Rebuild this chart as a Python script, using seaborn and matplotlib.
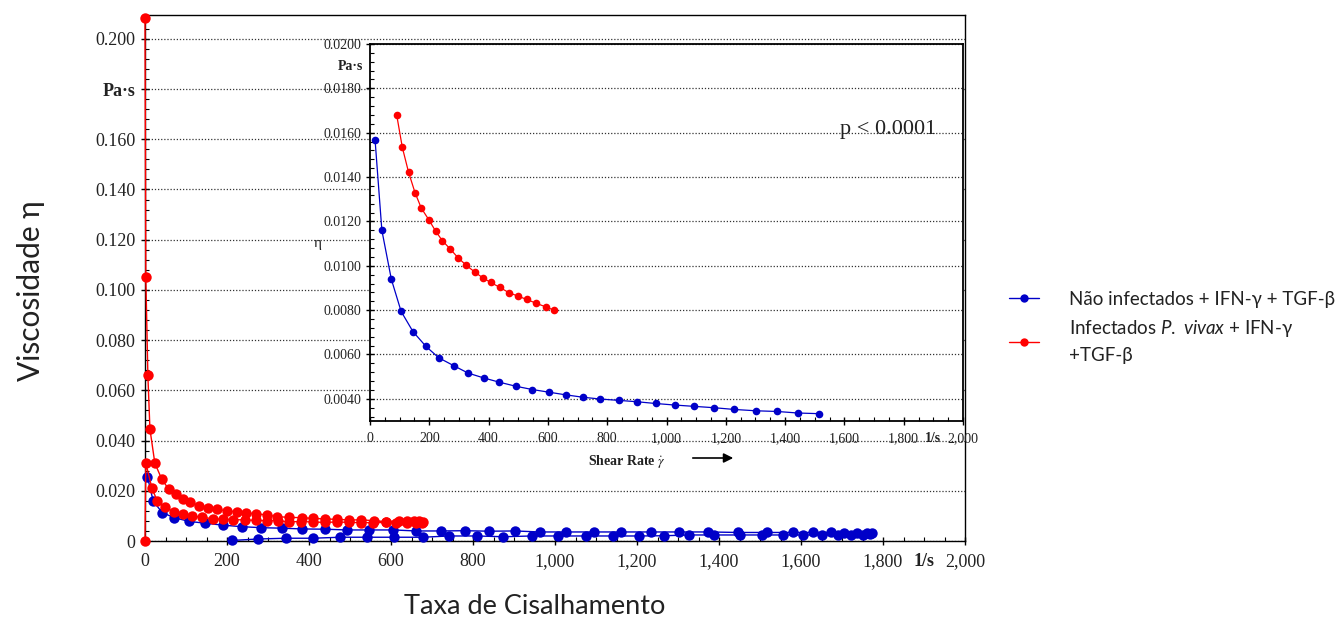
import matplotlib
matplotlib.use("Agg")
import matplotlib.pyplot as plt
from matplotlib.ticker import MultipleLocator, FixedLocator
from matplotlib.lines import Line2D
from matplotlib.font_manager import FontProperties
import matplotlib.transforms as mtransforms
import pandas as pd
import seaborn as sns

sns.set_theme(style="white")
plt.rcParams["font.family"] = ["Liberation Serif", "DejaVu Serif"]
plt.rcParams["mathtext.fontset"] = "custom"
plt.rcParams["mathtext.it"] = "Lato:italic"
plt.rcParams["mathtext.rm"] = "Lato"

BLUE = "#0000C8"
RED = "#FF0000"

# ---- main panel: full flow loop (ramp up, then ramp down) ----
blue_rate = [6, 20, 42, 71, 108, 146, 191, 236, 284, 335, 384, 439, 492, 547,
             606, 661, 723, 780, 840, 902, 963, 1028, 1095, 1162, 1233, 1303,
             1374, 1447, 1516, 1580, 1630, 1672, 1705, 1736, 1760, 1772,
             1768, 1752, 1723, 1691, 1650, 1606, 1555, 1504, 1450, 1388, 1328,
             1267, 1206, 1141, 1076, 1008, 943, 874, 810, 742, 677, 608, 542,
             476, 409, 343, 276, 211]
blue_visc = [0.0256, 0.0159, 0.0113, 0.0093, 0.0078, 0.0071, 0.0063, 0.0057,
             0.0053, 0.0051, 0.0048, 0.0047, 0.0044, 0.0044, 0.0044, 0.0040,
             0.0040, 0.0041, 0.0039, 0.0040, 0.0036, 0.0036, 0.0036, 0.0036,
             0.0036, 0.0036, 0.0036, 0.0034, 0.0034, 0.0034, 0.0034, 0.0034,
             0.0032, 0.0032, 0.0032, 0.0032,
             0.0026, 0.0025, 0.0025, 0.0024, 0.0024, 0.0024, 0.0024, 0.0024,
             0.0024, 0.0024, 0.0024, 0.0021, 0.0020, 0.0020, 0.0020, 0.0020,
             0.0020, 0.0017, 0.0020, 0.0020, 0.0015, 0.0015, 0.0015, 0.0015,
             0.0011, 0.0011, 0.0008, 0.0002]

red_rate = [0, 2, 7, 12, 24, 41, 58, 75, 92, 110, 132, 154, 176, 201, 224,
            246, 271, 297, 322, 352, 382, 409, 439, 469, 498, 528, 558, 589,
            620, 638, 655, 669, 678,
            675, 662, 638, 613, 589, 557, 528, 498, 469, 439, 409, 380, 352,
            325, 297, 271, 244, 215, 191, 166, 138, 114, 93, 71, 49, 30, 17,
            2, 0]
red_visc = [0.2085, 0.105, 0.066, 0.0446, 0.031, 0.0246, 0.0206, 0.0186,
            0.0166, 0.0154, 0.0141, 0.0130, 0.0126, 0.0120, 0.0116, 0.0112,
            0.0108, 0.0104, 0.0097, 0.0094, 0.0093, 0.0090, 0.0088, 0.0086,
            0.0084, 0.0084, 0.0081, 0.0077, 0.0081, 0.0081, 0.0080, 0.0079,
            0.0077,
            0.0073, 0.0072, 0.0072, 0.0073, 0.0074, 0.0073, 0.0073, 0.0074,
            0.0076, 0.0074, 0.0076, 0.0077, 0.0077, 0.0080, 0.0081, 0.0082,
            0.0084, 0.0085, 0.0086, 0.0089, 0.0094, 0.0100, 0.0108, 0.0116,
            0.0134, 0.0159, 0.0210, 0.031, 0.0]

# ---- inset: ramp-up curves ----
inset_blue_rate = [17, 40, 72, 105, 145, 189, 232, 283, 331, 384, 436, 491,
                   547, 603, 660, 719, 777, 839, 899, 963, 1027, 1093, 1160,
                   1229, 1303, 1373, 1443, 1516]
inset_blue_visc = [0.01569, 0.0116, 0.00939, 0.00794, 0.00703, 0.00636,
                   0.00585, 0.00549, 0.00516, 0.00494, 0.00475, 0.00457,
                   0.00442, 0.00430, 0.00418, 0.00407, 0.00399, 0.00393,
                   0.00387, 0.00379, 0.00372, 0.00366, 0.00360, 0.00352,
                   0.00346, 0.00343, 0.00336, 0.00333]
inset_red_rate = [90, 109, 130, 152, 173, 199, 221, 244, 271, 297, 324, 353,
                  381, 407, 437, 468, 499, 529, 560, 592, 620]
inset_red_visc = [0.0168, 0.01534, 0.01422, 0.01329, 0.0126, 0.01206,
                  0.01157, 0.01113, 0.01075, 0.01036, 0.01003, 0.00972,
                  0.00945, 0.00925, 0.00903, 0.00879, 0.00863, 0.00848,
                  0.00831, 0.00815, 0.0080]

main_y_ticks = [0, 0.02, 0.04, 0.06, 0.08, 0.10, 0.12, 0.14, 0.16, 0.18, 0.20]
main_y_labels = ["0", "0.020", "0.040", "0.060", "0.080", "0.100", "0.120",
                 "0.140", "0.160", "Pa·s", "0.200"]
x_ticks = [0, 200, 400, 600, 800, 1000, 1200, 1400, 1600, 1800, 2000]
x_labels = ["0", "200", "400", "600", "800", "1,000", "1,200", "1,400",
            "1,600", "1,800", "2,000"]
inset_y_ticks = [0.004, 0.006, 0.008, 0.010, 0.012, 0.014, 0.016, 0.018, 0.020]
inset_y_labels = ["0.0040", "0.0060", "0.0080", "0.0100", "0.0120", "0.0140",
                  "0.0160", "0.0180", "0.0200"]

label_blue = "Não infectados + IFN-γ + TGF-β"
label_red = "Infectados $\\mathit{P.\\ vivax}$ + IFN-γ\n+TGF-β"

W, H = 1339, 622
fig = plt.figure(figsize=(W / 100, H / 100), dpi=100)


def fx(px):
    return px / W


def fy(py):
    return 1 - py / H


ax = fig.add_axes([fx(145), fy(541), fx(965) - fx(145), fy(15) - fy(541)])
ax.set_facecolor("white")

main_blue = pd.DataFrame({"rate": blue_rate, "visc": blue_visc})
main_red = pd.DataFrame({"rate": red_rate, "visc": red_visc})
line_kw = dict(sort=False, estimator=None, marker="o", markersize=7.5,
               markeredgewidth=0, linewidth=1.0)
sns.lineplot(data=main_blue, x="rate", y="visc", color=BLUE, ax=ax, **line_kw)
sns.lineplot(data=main_red, x="rate", y="visc", color=RED, ax=ax, **line_kw)
for ln in ax.lines:
    ln.set_clip_on(False)
    ln.set_zorder(3)

ax.set_xlim(0, 2000)
ax.set_ylim(0, 0.2095)
ax.set_xlabel("")
ax.set_ylabel("")
ax.yaxis.set_major_locator(FixedLocator(main_y_ticks))
ax.set_yticklabels(main_y_labels)
ax.get_yticklabels()[9].set_fontweight("bold")
ax.xaxis.set_major_locator(FixedLocator(x_ticks))
ax.set_xticklabels(x_labels)
ax.xaxis.set_minor_locator(MultipleLocator(50))
ax.yaxis.set_minor_locator(MultipleLocator(0.004))
ax.tick_params(axis="both", which="major", direction="inout", length=6,
               width=1, color="black", labelsize=13, labelcolor="#222222")
ax.tick_params(axis="both", which="minor", direction="in", length=3,
               width=0.8, color="black")
ax.tick_params(axis="x", which="major", pad=6)
ax.tick_params(axis="y", which="major", pad=4)
ax.tick_params(left=True, bottom=True, which="both")
ax.yaxis.grid(True, which="major", linestyle=(0, (1, 1.5)), color="#333333",
              linewidth=0.9)
ax.xaxis.grid(False)
for sp in ax.spines.values():
    sp.set_color("black")
    sp.set_linewidth(1.0)
trans = mtransforms.blended_transform_factory(ax.transData, ax.transAxes)
ax.text(1900, -0.022, "1/s", transform=trans, ha="center", va="top",
        fontsize=13, fontweight="bold", color="#222222")

# ---- inset panel ----
ax_in = fig.add_axes([fx(370), fy(421), fx(963) - fx(370), fy(44) - fy(421)])
ax_in.set_facecolor("white")
ax_in.set_zorder(2)
in_blue = pd.DataFrame({"rate": inset_blue_rate, "visc": inset_blue_visc})
in_red = pd.DataFrame({"rate": inset_red_rate, "visc": inset_red_visc})
in_kw = dict(sort=False, estimator=None, marker="o", markersize=5.5,
             markeredgewidth=0, linewidth=0.9)
sns.lineplot(data=in_blue, x="rate", y="visc", color=BLUE, ax=ax_in, **in_kw)
sns.lineplot(data=in_red, x="rate", y="visc", color=RED, ax=ax_in, **in_kw)
ax_in.set_xlim(0, 2000)
ax_in.set_ylim(0.0030, 0.0200)
ax_in.set_xlabel("")
ax_in.set_ylabel("")
ax_in.yaxis.set_major_locator(FixedLocator(inset_y_ticks))
ax_in.set_yticklabels(inset_y_labels)
ax_in.xaxis.set_major_locator(FixedLocator(x_ticks))
ax_in.set_xticklabels(x_labels)
ax_in.xaxis.set_minor_locator(MultipleLocator(50))
ax_in.yaxis.set_minor_locator(MultipleLocator(0.0004))
ax_in.tick_params(axis="both", which="major", direction="inout", length=6,
                  width=1, color="black", labelsize=10, labelcolor="#222222")
ax_in.tick_params(axis="both", which="minor", direction="in", length=3,
                  width=0.8, color="black")
ax_in.tick_params(axis="x", which="major", pad=5)
ax_in.tick_params(axis="y", which="major", pad=3)
ax_in.tick_params(left=True, bottom=True, which="both")
ax_in.yaxis.grid(True, which="major", linestyle=(0, (1, 1.5)),
                 color="#333333", linewidth=0.9)
ax_in.xaxis.grid(False)
for sp in ax_in.spines.values():
    sp.set_color("black")
    sp.set_linewidth(1.3)
trans_in = mtransforms.blended_transform_factory(ax_in.transData,
                                                 ax_in.transAxes)
ax_in.text(1900, -0.028, "1/s", transform=trans_in, ha="center", va="top",
           fontsize=10, fontweight="bold", color="#222222")
trans_in_y = mtransforms.blended_transform_factory(ax_in.transAxes,
                                                   ax_in.transData)
ax_in.text(-0.012, 0.0190, "Pa·s", transform=trans_in_y, ha="right",
           va="center", fontsize=10, fontweight="bold", color="#222222")
ax_in.text(-0.088, 0.0110, "η", transform=trans_in_y, ha="center",
           va="center", fontsize=11, color="#222222")
ax_in.text(1585, 0.01615, "p < 0.0001", ha="left", va="center",
           fontsize=16, color="#222222")

fig.text(fx(627), fy(462), r"Shear Rate $\dot{\gamma}$", ha="center",
         va="center", fontsize=10, fontweight="bold", color="#222222",
         math_fontfamily="stix")
fig.add_artist(matplotlib.patches.FancyArrowPatch(
    (fx(690), fy(458)), (fx(736), fy(458)), transform=fig.transFigure,
    arrowstyle="-|>", mutation_scale=14, color="black", linewidth=1.2))

# ---- axis titles ----
sans = ["Lato", "DejaVu Sans"]
fig.text(fx(31), fy(291), "Viscosidade η", rotation=90, ha="center",
         va="center", fontsize=21.5, family=sans, color="#222222")
fig.text(fx(535), fy(607), "Taxa de Cisalhamento", ha="center",
         va="center", fontsize=19.5, family=sans, color="#222222")

# ---- legend ----
handles = [Line2D([], [], color=BLUE, marker="o", markersize=6,
                  markeredgewidth=0, linewidth=1.0),
           Line2D([], [], color=RED, marker="o", markersize=6,
                  markeredgewidth=0, linewidth=1.0)]
leg = fig.legend(handles, [label_blue, label_red], loc="upper left",
                 bbox_to_anchor=(fx(1009), fy(291)), frameon=False,
                 prop=FontProperties(family=sans, size=13.5),
                 handlelength=1.6, handletextpad=1.6, labelspacing=0.55,
                 borderaxespad=0, borderpad=0)
for t in leg.get_texts():
    t.set_linespacing(1.57)
    t.set_color("#222222")

fig.savefig("out.png", dpi=100, facecolor="white")
